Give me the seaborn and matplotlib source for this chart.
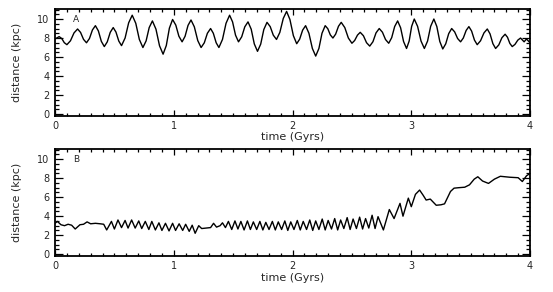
import matplotlib
matplotlib.use("Agg")
import matplotlib.pyplot as plt
import seaborn as sns
import pandas as pd
from matplotlib.ticker import MultipleLocator

# panel A: orbit distance vs time
time_a = [
    0.000, 0.035, 0.057, 0.078, 0.100, 0.130, 0.160, 0.190, 0.215, 0.240,
    0.265, 0.290, 0.315, 0.340, 0.365, 0.390, 0.415, 0.440, 0.465, 0.490,
    0.513, 0.537, 0.560, 0.590, 0.620, 0.650, 0.680, 0.710, 0.740, 0.767,
    0.793, 0.820, 0.850, 0.880, 0.910, 0.937, 0.963, 0.990, 1.017, 1.043,
    1.070, 1.095, 1.120, 1.145, 1.173, 1.202, 1.230, 1.257, 1.283, 1.310,
    1.333, 1.357, 1.380, 1.410, 1.440, 1.470, 1.495, 1.520, 1.545, 1.572,
    1.598, 1.625, 1.652, 1.678, 1.705, 1.732, 1.758, 1.785, 1.812, 1.838,
    1.865, 1.893, 1.922, 1.950, 1.978, 2.007, 2.035, 2.060, 2.085, 2.110,
    2.138, 2.167, 2.195, 2.222, 2.248, 2.275, 2.297, 2.318, 2.340, 2.363,
    2.387, 2.410, 2.440, 2.470, 2.500, 2.523, 2.547, 2.570, 2.597, 2.623,
    2.650, 2.677, 2.703, 2.730, 2.757, 2.783, 2.810, 2.835, 2.860, 2.885,
    2.910, 2.935, 2.960, 2.982, 3.003, 3.025, 3.053, 3.082, 3.110, 3.137,
    3.163, 3.190, 3.215, 3.240, 3.265, 3.290, 3.315, 3.340, 3.365, 3.390,
    3.415, 3.438, 3.462, 3.485, 3.508, 3.532, 3.555, 3.583, 3.612, 3.640,
    3.663, 3.687, 3.710, 3.737, 3.763, 3.790, 3.810, 3.830, 3.850, 3.873,
    3.897, 3.920, 3.950, 3.970, 4.000,
]
dist_a = [
    7.90, 8.15, 7.94, 7.51, 7.30, 7.71, 8.54, 8.95, 8.59, 7.86,
    7.50, 7.95, 8.85, 9.30, 8.75, 7.65, 7.10, 7.60, 8.60, 9.10,
    8.63, 7.68, 7.20, 8.00, 9.60, 10.40, 9.55, 7.85, 7.00, 7.70,
    9.10, 9.80, 8.93, 7.18, 6.30, 7.21, 9.04, 9.95, 9.36, 8.19,
    7.60, 8.18, 9.33, 9.90, 9.18, 7.73, 7.00, 7.50, 8.50, 9.00,
    8.50, 7.50, 7.00, 7.85, 9.55, 10.40, 9.70, 8.30, 7.60, 8.13,
    9.18, 9.70, 8.93, 7.38, 6.60, 7.36, 8.89, 9.65, 9.20, 8.30,
    7.85, 8.59, 10.06, 10.80, 9.95, 8.25, 7.40, 7.88, 8.83, 9.30,
    8.50, 6.90, 6.10, 6.90, 8.50, 9.30, 8.98, 8.33, 8.00, 8.41,
    9.24, 9.65, 9.10, 8.00, 7.45, 7.74, 8.31, 8.60, 8.24, 7.51,
    7.15, 7.61, 8.54, 9.00, 8.61, 7.84, 7.45, 8.04, 9.21, 9.80,
    9.08, 7.63, 6.90, 7.68, 9.23, 10.00, 9.23, 7.68, 6.90, 7.68,
    9.23, 10.00, 9.21, 7.64, 6.85, 7.39, 8.46, 9.00, 8.65, 7.95,
    7.60, 8.00, 8.80, 9.20, 8.73, 7.78, 7.30, 7.71, 8.54, 8.95,
    8.44, 7.41, 6.90, 7.28, 8.03, 8.40, 8.08, 7.43, 7.10, 7.33,
    7.78, 8.00, 7.60, 7.90, 7.50,
]

# panel B
time_b = [
    0.000, 0.020, 0.050, 0.080, 0.110, 0.140, 0.170, 0.210, 0.240, 0.270,
    0.300, 0.340, 0.380, 0.410, 0.435, 0.475, 0.500, 0.530, 0.560, 0.590,
    0.615, 0.645, 0.675, 0.705, 0.730, 0.760, 0.790, 0.815, 0.845, 0.875,
    0.900, 0.930, 0.960, 0.990, 1.015, 1.045, 1.075, 1.100, 1.130, 1.155,
    1.180, 1.210, 1.235, 1.270, 1.310, 1.335, 1.360, 1.390, 1.410, 1.435,
    1.460, 1.488, 1.515, 1.540, 1.565, 1.592, 1.620, 1.645, 1.670, 1.698,
    1.725, 1.750, 1.775, 1.802, 1.830, 1.855, 1.880, 1.908, 1.935, 1.960,
    1.985, 2.012, 2.040, 2.065, 2.090, 2.118, 2.145, 2.170, 2.195, 2.222,
    2.250, 2.275, 2.300, 2.328, 2.355, 2.380, 2.405, 2.432, 2.460, 2.485,
    2.510, 2.538, 2.565, 2.590, 2.615, 2.642, 2.670, 2.695, 2.720, 2.765,
    2.815, 2.855, 2.905, 2.930, 2.975, 3.000, 3.035, 3.070, 3.100, 3.125,
    3.160, 3.210, 3.250, 3.280, 3.330, 3.360, 3.400, 3.450, 3.490, 3.530,
    3.560, 3.600, 3.650, 3.700, 3.750, 3.830, 3.900, 3.935, 3.970, 4.000,
]
dist_b = [
    3.25, 3.45, 3.10, 3.00, 3.15, 3.05, 2.65, 3.10, 3.15, 3.40,
    3.20, 3.25, 3.20, 3.15, 2.55, 3.45, 2.65, 3.60, 2.80, 3.55,
    2.75, 3.60, 2.75, 3.50, 2.70, 3.45, 2.60, 3.45, 2.55, 3.30,
    2.50, 3.25, 2.45, 3.25, 2.50, 3.20, 2.50, 3.15, 2.40, 3.05,
    2.20, 3.00, 2.70, 2.75, 2.80, 3.25, 2.85, 3.00, 3.30, 2.80,
    3.45, 2.60, 3.50, 2.65, 3.45, 2.55, 3.50, 2.60, 3.40, 2.60,
    3.45, 2.55, 3.35, 2.60, 3.45, 2.55, 3.40, 2.60, 3.50, 2.50,
    3.40, 2.60, 3.55, 2.55, 3.45, 2.60, 3.60, 2.50, 3.50, 2.60,
    3.70, 2.55, 3.55, 2.65, 3.75, 2.55, 3.60, 2.70, 3.85, 2.60,
    3.70, 2.70, 3.90, 2.65, 3.75, 2.75, 4.10, 2.70, 3.95, 2.55,
    4.70, 3.75, 5.35, 4.00, 5.90, 5.00, 6.30, 6.75, 6.20, 5.70,
    5.80, 5.15, 5.20, 5.30, 6.60, 6.95, 7.00, 7.05, 7.30, 7.90,
    8.15, 7.70, 7.45, 7.90, 8.20, 8.10, 8.05, 7.65, 8.25, 8.50,
]

panel_labels = ["A", "B"]
x_ticks = [0, 1, 2, 3, 4]
y_ticks = [0, 2, 4, 6, 8, 10]


def draw_panel(ax, t, d, label):
    df = pd.DataFrame({"time": t, "distance": d})
    sns.lineplot(data=df, x="time", y="distance", ax=ax, color="black",
                 linewidth=1.0, estimator=None, sort=False)
    ax.set_xlim(0, 4)
    ax.set_ylim(-0.2, 11.05)
    ax.set_xticks(x_ticks)
    ax.set_yticks(y_ticks)
    ax.xaxis.set_minor_locator(MultipleLocator(0.1))
    ax.yaxis.set_minor_locator(MultipleLocator(0.5))
    ax.tick_params(which="both", direction="in", top=True, right=True,
                   color="black", width=0.9)
    ax.tick_params(axis="y", which="major", length=6, pad=4, labelsize=7)
    ax.tick_params(axis="y", which="minor", length=3)
    ax.tick_params(axis="x", which="major", length=4, pad=3.5, labelsize=7)
    ax.tick_params(axis="x", which="minor", length=2)
    for sp in ax.spines.values():
        sp.set_linewidth(1.3)
        sp.set_color("black")
    ax.set_xlabel("time (Gyrs)", fontsize=8)
    ax.set_ylabel("distance (kpc)", fontsize=8)
    ax.xaxis.set_label_coords(0.5, -0.155)
    ax.yaxis.set_label_coords(-0.07, 0.5)
    ax.text(0.15, 10.0, label, fontsize=6.5, va="center", ha="left")


def main():
    sns.set_style("ticks")
    plt.rcParams["font.family"] = ["DejaVu Sans"]
    fig = plt.figure(figsize=(5.53, 2.92), dpi=100)
    ax_a = fig.add_axes([0.0995, 0.603, 0.859, 0.366])
    ax_b = fig.add_axes([0.0995, 0.123, 0.859, 0.366])
    draw_panel(ax_a, time_a, dist_a, panel_labels[0])
    draw_panel(ax_b, time_b, dist_b, panel_labels[1])
    fig.savefig("out.png", dpi=100)
    plt.close(fig)


if __name__ == "__main__":
    main()
